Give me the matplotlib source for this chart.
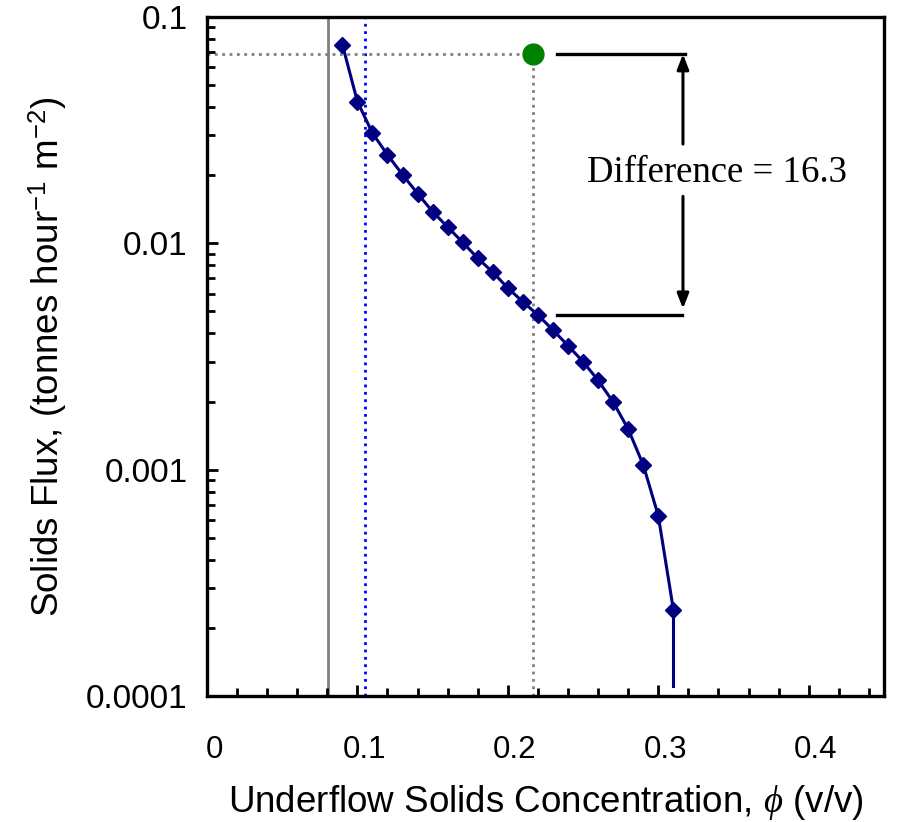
import numpy as np
import matplotlib
matplotlib.use("Agg")
import matplotlib.pyplot as plt
from matplotlib.ticker import LogLocator, MultipleLocator, NullFormatter
from matplotlib.transforms import ScaledTranslation

plt.rcParams['font.family'] = ['Liberation Sans', 'DejaVu Sans']
plt.rcParams['mathtext.fontset'] = 'custom'
plt.rcParams['mathtext.rm'] = 'Liberation Sans'
plt.rcParams['mathtext.it'] = 'Liberation Serif:italic'

# data
phi = [0.09, 0.10, 0.11, 0.12, 0.13, 0.14, 0.15, 0.16, 0.17, 0.18, 0.19, 0.20,
       0.21, 0.22, 0.23, 0.24, 0.25, 0.26, 0.27, 0.28, 0.29, 0.30, 0.31]
flux = [0.0756, 0.0423, 0.0307, 0.0246, 0.0201, 0.0166, 0.0138, 0.0118, 0.0101,
        0.00859, 0.00746, 0.00634, 0.00552, 0.00482, 0.00414, 0.00353, 0.00300,
        0.00248, 0.00199, 0.00151, 0.00105, 0.000625, 0.000241]
tail_phi = [0.31, 0.31]
tail_flux = [0.000241, 0.000111]

op_phi, op_flux = 0.217, 0.0685      # operating point (green)
phi_gel = 0.0805                     # solid gray line
phi_blue = 0.105                     # dotted blue line
diff_low = 0.0048
diff_text = "Difference = 16.3"

fig = plt.figure(figsize=(9.01, 8.22), dpi=100)
ax = fig.add_axes([0.2297, 0.1533, 0.7514, 0.826])

ax.set_yscale('log')
ax.set_xlim(0, 0.45)
ax.set_ylim(0.0001, 0.1)

# reference lines
ax.axvline(phi_gel, color='#808080', lw=2, zorder=1)
ax.axvline(phi_blue, color='blue', lw=2, ls=':', zorder=1)
ax.plot([0, op_phi], [op_flux, op_flux], color='#808080', lw=2, ls=':', zorder=1)
ax.plot([op_phi, op_phi], [0.0001, op_flux], color='#808080', lw=2, ls=':', zorder=1)

# flux curve
ax.plot(tail_phi, tail_flux, color='navy', lw=2.2, zorder=2)
ax.plot(phi, flux, color='navy', lw=2.2, marker='D', ms=8, zorder=3)
ax.plot([op_phi], [op_flux], 'o', color='green', ms=15, zorder=4)

# difference annotation
ax.plot([0.2324, 0.318], [op_flux, op_flux], color='black', lw=2.4)
ax.plot([0.2324, 0.316], [diff_low, diff_low], color='black', lw=2.4)
ax.annotate('', xy=(0.3164, 0.0705), xytext=(0.3164, 0.0267),
            arrowprops=dict(arrowstyle='-|>,head_length=0.9,head_width=0.35', color='black', lw=2.2))
ax.annotate('', xy=(0.3164, 0.0050), xytext=(0.3164, 0.0166),
            arrowprops=dict(arrowstyle='-|>,head_length=0.9,head_width=0.35', color='black', lw=2.2))
ax.text(0.3387, 0.0205, diff_text, ha='center', va='center',
        family='Liberation Serif', fontsize=26.5)

# axes styling
for s in ax.spines.values():
    s.set_linewidth(2.4)
ax.set_xticks([0, 0.1, 0.2, 0.3, 0.4])
ax.set_xticklabels(['0', '0.1', '0.2', '0.3', '0.4'])
ax.xaxis.set_minor_locator(MultipleLocator(0.02))
ax.set_yticks([0.0001, 0.001, 0.01, 0.1])
ax.set_yticklabels(['0.0001', '0.001', '0.01', '0.1'])
ax.yaxis.set_minor_locator(LogLocator(base=10, subs=np.arange(2, 10)))
ax.yaxis.set_minor_formatter(NullFormatter())

ax.tick_params(which='both', direction='in', top=False, right=False, width=2)
ax.tick_params(which='major', length=8)
ax.tick_params(which='minor', length=5.5)
ax.tick_params(axis='x', which='major', labelsize=22.5, pad=28)
ax.tick_params(axis='y', which='major', labelsize=24, pad=14)

offset = ScaledTranslation(7 / 100, 0, fig.dpi_scale_trans)
for lab in ax.get_xticklabels():
    lab.set_transform(lab.get_transform() + offset)

ax.set_xlabel(r'Underflow Solids Concentration, $\it{\phi}$ (v/v)', fontsize=26.5, labelpad=13)
ax.set_ylabel(r'Solids Flux, (tonnes hour$^{-1}$ m$^{-2}$)', fontsize=26.5, labelpad=12)

fig.savefig('out.png', dpi=100)
